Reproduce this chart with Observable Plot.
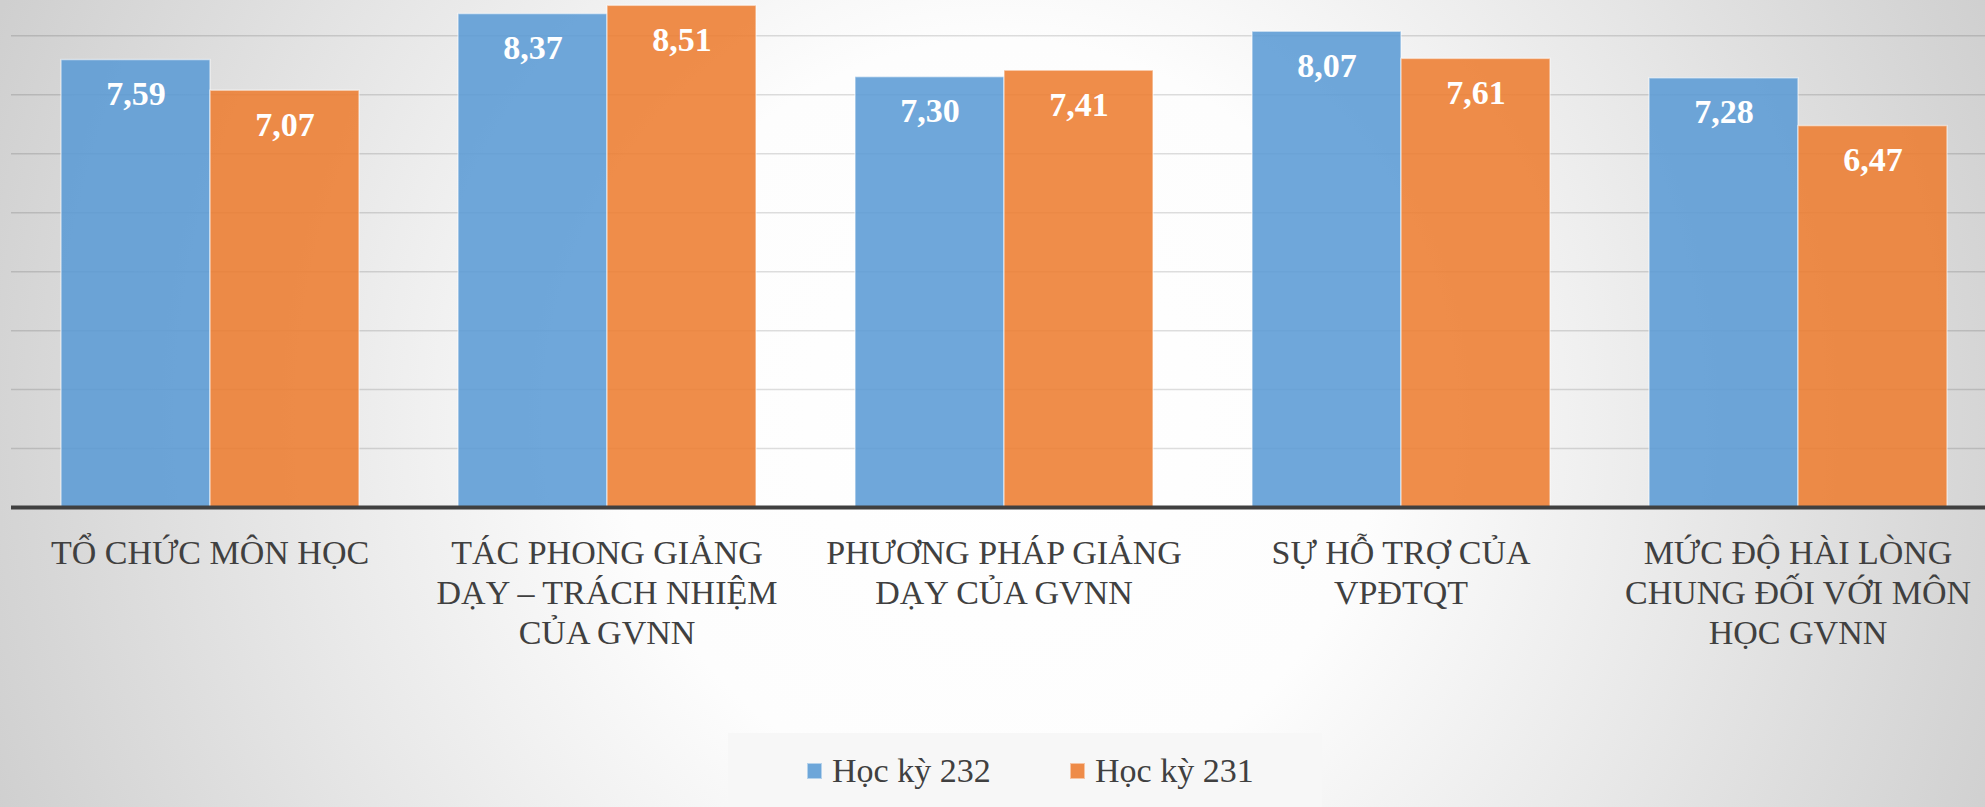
<!DOCTYPE html>
<html>
<head>
<meta charset="utf-8">
<script src="https://cdn.jsdelivr.net/npm/d3@7"></script>
<script src="https://cdn.jsdelivr.net/npm/@observablehq/plot@0.6"></script>
<style>
  html, body { margin: 0; padding: 0; }
  body {
    width: 1985px; height: 807px; overflow: hidden;
    background: radial-gradient(circle at 1000px 420px, #ffffff 0px, #fdfdfd 380px, #e7e7e7 720px, #cfcfcf 1080px);
  }
  #chart svg { display: block; }
  #legend {
    position: relative; margin-left: 728px; width: 594px; height: 74px;
    background: #f7f7f7; color: #404040;
  }
  .sw { position: absolute; top: 30px; width: 15px; height: 16px; box-sizing: border-box; border: 1px solid rgba(255,255,255,0.5); }
  .lt { position: absolute; top: 21px; font-size: 34px; line-height: 34px; white-space: nowrap; }
</style>
</head>
<body>
<div id="chart"></div>
<div id="legend"></div>
<script>
const categories = [
  "TỔ CHỨC MÔN HỌC",
  "TÁC PHONG GIẢNG DẠY – TRÁCH NHIỆM CỦA GVNN",
  "PHƯƠNG PHÁP GIẢNG DẠY CỦA GVNN",
  "SỰ HỖ TRỢ CỦA VPĐTQT",
  "MỨC ĐỘ HÀI LÒNG CHUNG ĐỐI VỚI MÔN HỌC GVNN"
];
const tickLabels = [
  "TỔ CHỨC MÔN HỌC",
  "TÁC PHONG GIẢNG\nDẠY – TRÁCH NHIỆM\nCỦA GVNN",
  "PHƯƠNG PHÁP GIẢNG\nDẠY CỦA GVNN",
  "SỰ HỖ TRỢ CỦA\nVPĐTQT",
  "MỨC ĐỘ HÀI LÒNG\nCHUNG ĐỐI VỚI MÔN\nHỌC GVNN"
];
const series = ["Học kỳ 232", "Học kỳ 231"];
const values232 = [7.59, 8.37, 7.30, 8.07, 7.28];
const values231 = [7.07, 8.51, 7.41, 7.61, 6.47];
const colors = ["#5B9BD5", "#ED7D31"];
const gridTicks = [1, 2, 3, 4, 5, 6, 7, 8];

const rows = [];
categories.forEach((c, i) => {
  rows.push({category: c, series: series[0], value: values232[i]});
  rows.push({category: c, series: series[1], value: values231[i]});
});

const font = "Liberation Serif";
document.body.style.fontFamily = '"Liberation Serif"';

const chart = Plot.plot({
  width: 2000,
  height: 733,
  marginLeft: 9,
  marginRight: 2,
  marginTop: 0,
  marginBottom: 226,
  style: {background: "transparent", maxWidth: "none", overflow: "visible", color: "#404040"},
  fx: {domain: categories, paddingInner: 0, paddingOuter: 0, axis: null, label: null},
  x: {domain: series, paddingInner: 0, paddingOuter: 0.326, axis: null, label: null},
  y: {domain: [0, 8.6], axis: null, label: null},
  color: {domain: series, range: colors},
  marks: [
    Plot.ruleY(gridTicks, {stroke: "#000", strokeOpacity: 0.13, strokeWidth: 1.5}),
    Plot.barY(rows, {fx: "category", x: "series", y: "value", fill: "series", fillOpacity: 0.88,
      stroke: "#ffffff", strokeOpacity: 0.5, strokeWidth: 1.5}),
    Plot.text(rows, {fx: "category", x: "series", y: "value",
      text: d => d.value.toFixed(2).replace(".", ","),
      fill: "white", fontWeight: "bold", fontSize: 34, fontFamily: font,
      lineAnchor: "bottom", dy: 45}),
    Plot.ruleY([0], {stroke: "#404040", strokeWidth: 4}),
    Plot.axisFx({anchor: "bottom", tickSize: 0, tickPadding: 28, fontSize: 34, lineHeight: 1.18,
      fill: "#404040", fontFamily: font, label: null,
      tickFormat: d => tickLabels[categories.indexOf(d)]})
  ]
});
chart.style.fontFamily = '"Liberation Serif"';
chart.querySelectorAll("text").forEach(t => t.style.fontFamily = '"Liberation Serif"');
document.getElementById("chart").appendChild(chart);

const legend = document.getElementById("legend");
const swLeft = [79, 342];
const txLeft = [104, 367];
series.forEach((s, i) => {
  const sw = document.createElement("div");
  sw.className = "sw";
  sw.style.left = swLeft[i] + "px";
  sw.style.background = colors[i];
  sw.style.opacity = 0.88;
  legend.appendChild(sw);
  const t = document.createElement("div");
  t.className = "lt";
  t.style.left = txLeft[i] + "px";
  t.style.fontFamily = '"Liberation Serif"';
  t.textContent = s;
  legend.appendChild(t);
});
</script>
</body>
</html>
